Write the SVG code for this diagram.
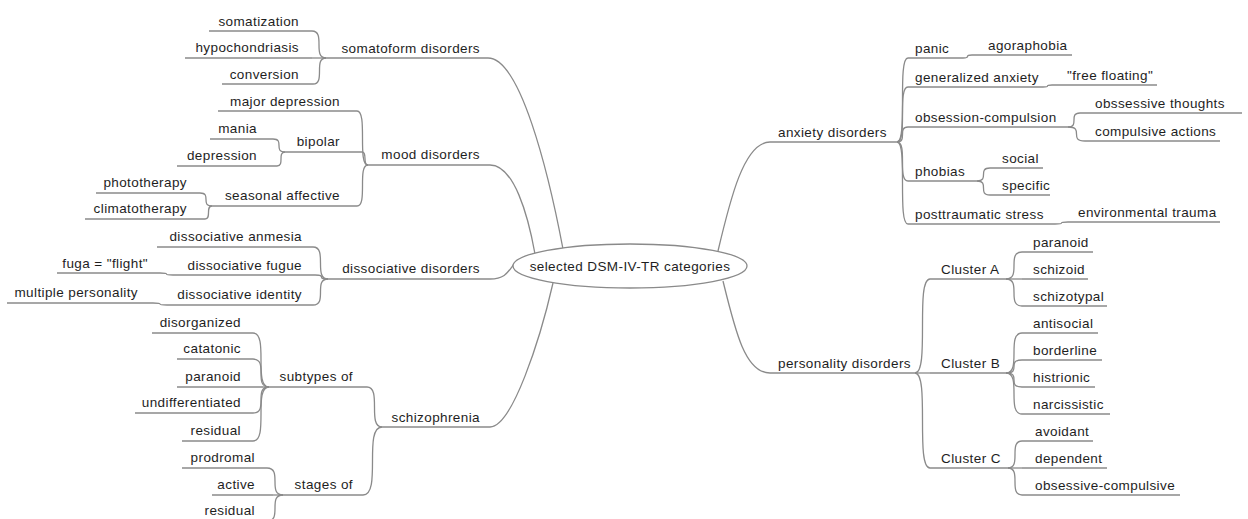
<svg xmlns="http://www.w3.org/2000/svg" width="1248" height="519" viewBox="0 0 1248 519">
<style>
text{font-family:"Liberation Sans",Arial,sans-serif;font-size:13.5px;letter-spacing:0.4px;fill:#1e1e1e}
.l{text-anchor:end}
.r{text-anchor:start}
.c{text-anchor:middle}
path,line,ellipse{stroke:#8a8a8a;stroke-width:1.3;fill:none}
ellipse{fill:#fff}
</style>
<rect width="1248" height="519" fill="#fff"/>
<g id="connectors">
<!-- root edges -->
<path d="M488,58 C520,58 548,170 563,249"/>
<path d="M490,165 C514,165 528,215 535,254"/>
<path d="M490,279 C505,279 508,272 514,264"/>
<path d="M490,427 C512,427 540,340 553,283"/>
<path d="M718,251 C730,200 744,142 770,142"/>
<path d="M723,281 C735,330 745,373 770,373"/>
<!-- somatoform -->
<path d="M312,31 C326,31 312,58 326,58"/>
<path d="M312,58 L326,58"/>
<path d="M313,84 C326,84 313,58 326,58"/>
<!-- mood -->
<path d="M357,111 C368,111 357,165 368,165"/>
<path d="M362,152 C368,152 362,165 368,165"/>
<path d="M357,206 C368,206 357,165 368,165"/>
<path d="M273,139 C285,139 273,152 285,152"/>
<path d="M277,166 C285,166 277,152 285,152"/>
<path d="M200,193 C212,193 200,206 212,206"/>
<path d="M205,219 C212,219 205,206 212,206"/>
<!-- dissociative -->
<path d="M313,247 C328,247 313,279 328,279"/>
<path d="M315,275 C328,275 315,279 328,279"/>
<path d="M313,305 C328,305 313,279 328,279"/>
<path d="M160,273 C173,273 160,275 173,275"/>
<path d="M153,303 C167,303 153,305 167,305"/>
<!-- schizophrenia -->
<path d="M367,387 C382,387 367,427 382,427"/>
<path d="M363,495 C382,495 363,427 382,427"/>
<path d="M253,333 C269,333 253,387 269,387"/>
<path d="M253,359 C269,359 253,387 269,387"/>
<path d="M263,387 L269,387"/>
<path d="M253,413 C269,413 253,387 269,387"/>
<path d="M253,441 C269,441 253,387 269,387"/>
<path d="M267,468 C283,468 267,495 283,495"/>
<path d="M273,495 L283,495"/>
<path d="M267,521 C283,521 267,495 283,495"/>
<!-- anxiety -->
<path d="M897,142 C908,142 897,58 908,58"/>
<path d="M897,142 C908,142 897,87 908,87"/>
<path d="M897,142 C908,142 897,127 908,127"/>
<path d="M897,142 C908,142 897,181 908,181"/>
<path d="M897,142 C908,142 897,224 908,224"/>
<path d="M963,58 C972,58 963,55 972,55"/>
<path d="M1043,87 C1052,87 1043,85 1052,85"/>
<path d="M1068,127 C1080,127 1068,113 1080,113"/>
<path d="M1068,127 C1085,127 1068,141 1085,141"/>
<path d="M977,181 C990,181 977,168 990,168"/>
<path d="M977,181 C990,181 977,195 990,195"/>
<path d="M1055,224 C1068,224 1055,222 1068,222"/>
<!-- personality -->
<path d="M915,373 C930,373 915,279 930,279"/>
<path d="M915,373 L930,373"/>
<path d="M915,373 C930,373 915,468 930,468"/>
<path d="M1006,279 C1022,279 1006,252 1022,252"/>
<path d="M1006,279 L1022,279"/>
<path d="M1006,279 C1022,279 1006,306 1022,306"/>
<path d="M1006,373 C1022,373 1006,333 1022,333"/>
<path d="M1006,373 C1022,373 1006,360 1022,360"/>
<path d="M1006,373 C1022,373 1006,387 1022,387"/>
<path d="M1006,373 C1022,373 1006,414 1022,414"/>
<path d="M1008,468 C1022,468 1008,441 1022,441"/>
<path d="M1008,468 L1022,468"/>
<path d="M1008,468 C1022,468 1008,495 1022,495"/>
</g>
<g id="root"><ellipse cx="630" cy="266" rx="117" ry="22"/><text class="c" x="630" y="271">selected DSM-IV-TR categories</text></g>
<!-- left side -->
<g id="somatoform"><path d="M326,58 H488"/><text class="l" x="480" y="53">somatoform disorders</text></g>
<g id="somatization"><path d="M209,31 H312"/><text class="l" x="299" y="26">somatization</text></g>
<g id="hypochondriasis"><path d="M185,58 H312"/><text class="l" x="299" y="52">hypochondriasis</text></g>
<g id="conversion"><path d="M222,84 H313"/><text class="l" x="299" y="79">conversion</text></g>
<g id="mood"><path d="M368,165 H490"/><text class="l" x="480" y="159">mood disorders</text></g>
<g id="major-depression"><path d="M218,111 H357"/><text class="l" x="340" y="106">major depression</text></g>
<g id="bipolar"><path d="M285,152 H362"/><text class="l" x="340" y="146">bipolar</text></g>
<g id="seasonal"><path d="M212,206 H357"/><text class="l" x="340" y="200">seasonal affective</text></g>
<g id="mania"><path d="M210,139 H273"/><text class="l" x="257" y="133">mania</text></g>
<g id="depression"><path d="M177,166 H277"/><text class="l" x="257" y="160">depression</text></g>
<g id="phototherapy"><path d="M96,193 H200"/><text class="l" x="187" y="187">phototherapy</text></g>
<g id="climatotherapy"><path d="M85,219 H205"/><text class="l" x="187" y="213">climatotherapy</text></g>
<g id="dissociative"><path d="M328,279 H490"/><text class="l" x="480" y="273">dissociative disorders</text></g>
<g id="anmesia"><path d="M157,247 H313"/><text class="l" x="302" y="241">dissociative anmesia</text></g>
<g id="fugue"><path d="M173,275 H315"/><text class="l" x="302" y="270">dissociative fugue</text></g>
<g id="identity"><path d="M167,305 H313"/><text class="l" x="302" y="299">dissociative identity</text></g>
<g id="fuga"><path d="M57,273 H160"/><text class="l" x="148" y="268">fuga = "flight"</text></g>
<g id="multiple"><path d="M7,303 H153"/><text class="l" x="138" y="297">multiple personality</text></g>
<g id="schizophrenia"><path d="M382,427 H490"/><text class="l" x="480" y="422">schizophrenia</text></g>
<g id="subtypes"><path d="M269,387 H367"/><text class="l" x="353" y="381">subtypes of</text></g>
<g id="stages"><path d="M283,495 H363"/><text class="l" x="353" y="489">stages of</text></g>
<g id="disorganized"><path d="M152,333 H253"/><text class="l" x="241" y="327">disorganized</text></g>
<g id="catatonic"><path d="M177,359 H253"/><text class="l" x="241" y="353">catatonic</text></g>
<g id="paranoid-s"><path d="M177,387 H263"/><text class="l" x="241" y="381">paranoid</text></g>
<g id="undifferentiated"><path d="M135,413 H253"/><text class="l" x="241" y="407">undifferentiated</text></g>
<g id="residual-s"><path d="M182,441 H253"/><text class="l" x="241" y="435">residual</text></g>
<g id="prodromal"><path d="M182,468 H267"/><text class="l" x="255" y="462">prodromal</text></g>
<g id="active"><path d="M212,495 H273"/><text class="l" x="255" y="489">active</text></g>
<g id="residual-st"><path d="M197,521 H267"/><text class="l" x="255" y="515">residual</text></g>
<!-- right side -->
<g id="anxiety"><path d="M770,142 H897"/><text class="r" x="778" y="137">anxiety disorders</text></g>
<g id="panic"><path d="M908,58 H963"/><text class="r" x="915" y="53">panic</text></g>
<g id="agoraphobia"><path d="M972,55 H1072"/><text class="r" x="988" y="50">agoraphobia</text></g>
<g id="generalized"><path d="M908,87 H1043"/><text class="r" x="915" y="82">generalized anxiety</text></g>
<g id="free-floating"><path d="M1052,85 H1157"/><text class="r" x="1067" y="80">"free floating"</text></g>
<g id="obsession"><path d="M908,127 H1068"/><text class="r" x="915" y="122">obsession-compulsion</text></g>
<g id="thoughts"><path d="M1080,113 H1242"/><text class="r" x="1095" y="108">obssessive thoughts</text></g>
<g id="actions"><path d="M1085,141 H1220"/><text class="r" x="1095" y="136">compulsive actions</text></g>
<g id="phobias"><path d="M908,181 H977"/><text class="r" x="915" y="176">phobias</text></g>
<g id="social"><path d="M990,168 H1043"/><text class="r" x="1002" y="163">social</text></g>
<g id="specific"><path d="M990,195 H1050"/><text class="r" x="1002" y="190">specific</text></g>
<g id="posttraumatic"><path d="M908,224 H1055"/><text class="r" x="915" y="219">posttraumatic stress</text></g>
<g id="environmental"><path d="M1068,222 H1220"/><text class="r" x="1078" y="217">environmental trauma</text></g>
<g id="personality"><path d="M770,373 H915"/><text class="r" x="778" y="368">personality disorders</text></g>
<g id="cluster-a"><path d="M930,279 H1006"/><text class="r" x="941" y="274">Cluster A</text></g>
<g id="cluster-b"><path d="M930,373 H1006"/><text class="r" x="941" y="368">Cluster B</text></g>
<g id="cluster-c"><path d="M930,468 H1008"/><text class="r" x="941" y="463">Cluster C</text></g>
<g id="paranoid-p"><path d="M1022,252 H1093"/><text class="r" x="1033" y="247">paranoid</text></g>
<g id="schizoid"><path d="M1022,279 H1088"/><text class="r" x="1033" y="274">schizoid</text></g>
<g id="schizotypal"><path d="M1022,306 H1107"/><text class="r" x="1033" y="301">schizotypal</text></g>
<g id="antisocial"><path d="M1022,333 H1098"/><text class="r" x="1033" y="328">antisocial</text></g>
<g id="borderline"><path d="M1022,360 H1102"/><text class="r" x="1033" y="355">borderline</text></g>
<g id="histrionic"><path d="M1022,387 H1095"/><text class="r" x="1033" y="382">histrionic</text></g>
<g id="narcissistic"><path d="M1022,414 H1110"/><text class="r" x="1033" y="409">narcissistic</text></g>
<g id="avoidant"><path d="M1022,441 H1093"/><text class="r" x="1035" y="436">avoidant</text></g>
<g id="dependent"><path d="M1022,468 H1107"/><text class="r" x="1035" y="463">dependent</text></g>
<g id="obsessive-compulsive"><path d="M1022,495 H1180"/><text class="r" x="1035" y="490">obsessive-compulsive</text></g>
</svg>
